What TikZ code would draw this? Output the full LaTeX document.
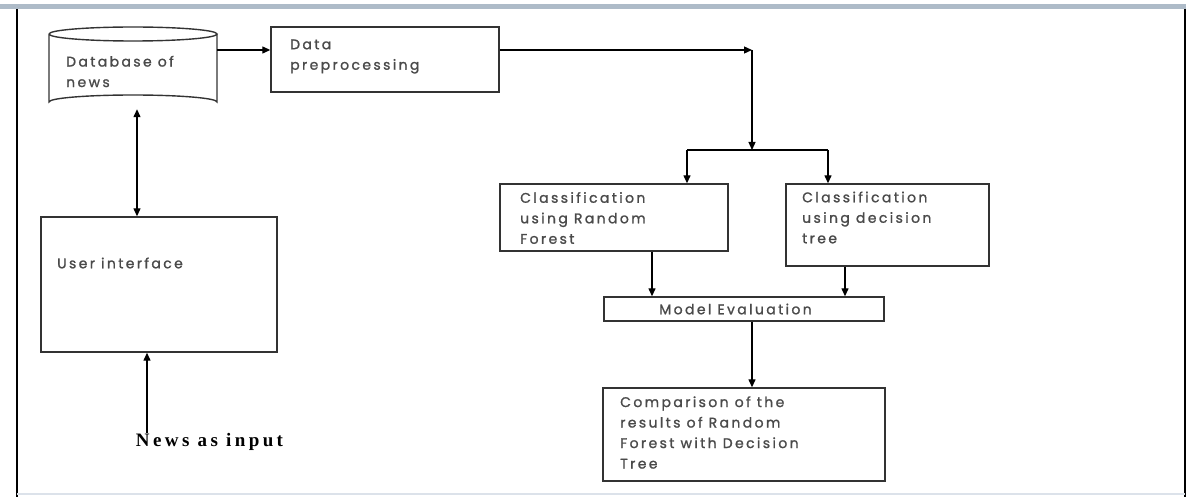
\documentclass[tikz,border=0pt]{standalone}
\usepackage{fontspec}
\usetikzlibrary{arrows.meta}
\newfontfamily\boxfont[LetterSpace=17,FakeBold=1.3]{Poppins}
\newfontfamily\capfont[LetterSpace=18]{Liberation Serif}
\definecolor{txtgray}{HTML}{4A4A4A}
\definecolor{bordergray}{HTML}{333333}
\definecolor{framebar}{HTML}{AEBBC8}
\definecolor{framebot}{HTML}{DCE2EA}
\begin{document}
\begin{tikzpicture}[x=1pt,y=-1pt,
  box/.style={draw=bordergray, line width=1.4pt, inner sep=0pt},
  txt/.style={inner sep=0pt, anchor=west, align=left, text=txtgray,
    font=\boxfont\fontsize{14}{20.5}\selectfont},
  arr/.style={line width=1.3pt, -{Triangle[length=8pt,width=7pt]}},
  darr/.style={line width=1.3pt, {Triangle[length=8pt,width=7pt]}-{Triangle[length=8pt,width=7pt]}},
  ln/.style={line width=1.3pt}]
\useasboundingbox (0,0) rectangle (1186,497);
% frame
\fill[framebar] (0,4) rectangle (1186,9);
\draw[line width=1.2pt] (17,9) -- (17,497);
\draw[line width=1.2pt] (1185,9) -- (1185,497);
\draw[framebot, line width=2pt] (17,494) -- (1185,494);

% database cylinder
\node[inner sep=0pt, minimum width=168pt, minimum height=82pt] (db) at (133,68) {};
\draw[bordergray, line width=1.4pt]
  (49,34) arc[x radius=84, y radius=7, start angle=180, end angle=-180]
  (49,34) -- (49,102) arc[x radius=84, y radius=7, start angle=180, end angle=360] -- (217,34);
\node[txt] (dbT) at (66,71.5) {Database of\\news};

% boxes
\node[box, minimum width=228pt, minimum height=65pt] (dp) at (385,59.5) {};
\node[txt] (dpT) at (290,56.5) {Data\\preprocessing};
\node[box, minimum width=228pt, minimum height=67pt] (rf) at (614,217.5) {};
\node[txt] (rfT) at (520,218) {Classification\\using Random\\Forest};
\node[box, minimum width=203pt, minimum height=82pt] (dt) at (887.5,225) {};
\node[txt] (dtT) at (802,217.5) {Classification\\using decision\\tree};
\node[box, minimum width=280pt, minimum height=24pt] (me) at (744,309) {};
\node[txt, anchor=center] (meT) at (735.5,309) {Model Evaluation};
\node[box, minimum width=282pt, minimum height=93pt] (cmp) at (744,434.5) {};
\node[txt] (cmpT) at (620,432.5) {Comparison of the\\results of Random\\Forest with Decision\\Tree};
\node[box, minimum width=236pt, minimum height=135pt] (ui) at (159,284.5) {};
\node[txt] (uiT) at (57,263) {User interface};
\node[inner sep=0pt, font=\capfont\bfseries\fontsize{19}{22}\selectfont] (news) at (209.5,442) {News as input};

% helper coordinates
\coordinate (a1) at (0,50);
\coordinate (c1) at (752,50);
\coordinate (split) at (752,150);
\coordinate (bl) at (687,150);
\coordinate (br) at (828,150);
\coordinate (xdb) at (137,0);
\coordinate (xnews) at (147,433);
\coordinate (xrf) at (652,0);
\coordinate (xdt) at (845,0);

% connectors
\draw[darr] (db.south -| xdb) -- (ui.north -| xdb);
\draw[arr] (xnews) -- (ui.south -| xnews);
\draw[arr] (db.east |- a1) -- (dp.west |- a1);
\draw[arr] (dp.east |- a1) -- (c1);
\draw[arr] (c1) -- (split);
\draw[ln] (bl) -- (br);
\draw[arr] (bl) -- (rf.north -| bl);
\draw[arr] (br) -- (dt.north -| br);
\draw[arr] (rf.south -| xrf) -- (me.north -| xrf);
\draw[arr] (dt.south -| xdt) -- (me.north -| xdt);
\draw[arr] (me.south -| c1) -- (cmp.north -| c1);
\end{tikzpicture}
\end{document}
